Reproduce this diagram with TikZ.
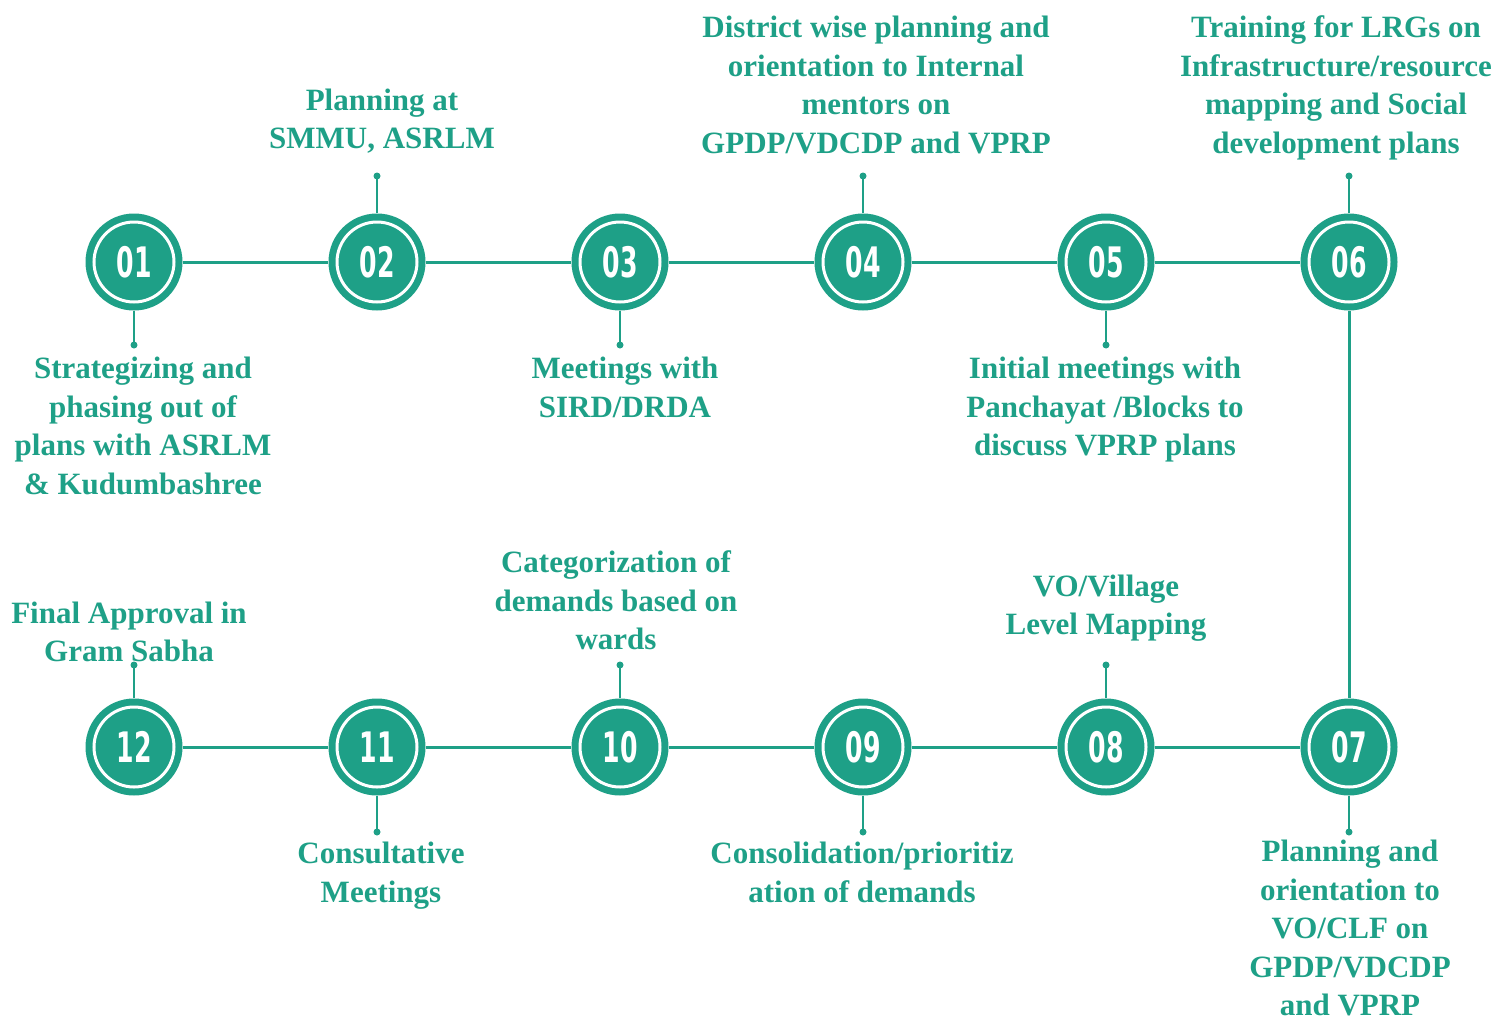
\documentclass[tikz,border=0pt]{standalone}
\usepackage{fontspec}
\setmainfont{Liberation Serif}
\newfontfamily\numfont{DejaVu Sans}
\definecolor{tl}{RGB}{30,160,135}
\begin{document}
\begin{tikzpicture}[x=1pt,y=-1pt,
  stepc/.style={circle, fill=tl, minimum size=97pt, inner sep=0pt, text=white,
    font=\numfont\bfseries\fontsize{42}{42}\selectfont},
  ring/.style={draw=white, line width=3pt},
  link/.style={draw=tl, line width=3pt},
  stub/.style={draw=tl, line width=2.5pt},
  lbl/.style={text=tl, font=\bfseries\fontsize{31}{38.5}\selectfont, align=center,
    inner sep=0pt, execute at begin node=\strut, execute at end node=\strut}]
\useasboundingbox (0,0) rectangle (1499,1020);

% step circles
\node[stepc] (c1)  at (134,262)  {\scalebox{0.6}[1]{01}};
\node[stepc] (c2)  at (377,262)  {\scalebox{0.6}[1]{02}};
\node[stepc] (c3)  at (620,262)  {\scalebox{0.6}[1]{03}};
\node[stepc] (c4)  at (863,262)  {\scalebox{0.6}[1]{04}};
\node[stepc] (c5)  at (1106,262) {\scalebox{0.6}[1]{05}};
\node[stepc] (c6)  at (1349,262) {\scalebox{0.6}[1]{06}};
\node[stepc] (c7)  at (1349,747) {\scalebox{0.6}[1]{07}};
\node[stepc] (c8)  at (1106,747) {\scalebox{0.6}[1]{08}};
\node[stepc] (c9)  at (863,747)  {\scalebox{0.6}[1]{09}};
\node[stepc] (c10) at (620,747)  {\scalebox{0.6}[1]{10}};
\node[stepc] (c11) at (377,747)  {\scalebox{0.6}[1]{11}};
\node[stepc] (c12) at (134,747)  {\scalebox{0.6}[1]{12}};
\foreach \i in {1,...,12} \draw[ring] (c\i.center) circle[radius=40];

% connectors
\draw[link] (c1) -- (c2);
\draw[link] (c2) -- (c3);
\draw[link] (c3) -- (c4);
\draw[link] (c4) -- (c5);
\draw[link] (c5) -- (c6);
\draw[link] (c6) -- (c7);
\draw[link] (c7) -- (c8);
\draw[link] (c8) -- (c9);
\draw[link] (c9) -- (c10);
\draw[link] (c10) -- (c11);
\draw[link] (c11) -- (c12);

% stubs
\coordinate (d1)  at (134,345);
\coordinate (d2)  at (377,176);
\coordinate (d3)  at (620,345);
\coordinate (d4)  at (863,176);
\coordinate (d5)  at (1106,345);
\coordinate (d6)  at (1349,176);
\coordinate (d7)  at (1349,832);
\coordinate (d8)  at (1106,665);
\coordinate (d9)  at (863,832);
\coordinate (d10) at (620,665);
\coordinate (d11) at (377,832);
\coordinate (d12) at (134,665);
\foreach \i in {1,...,12} {
  \draw[stub] (c\i) -- (d\i);
  \fill[tl] (d\i) circle[radius=3.5];
}

% labels
\node[lbl, anchor=north] (t1) at (143,357)
  {Strategizing and\\phasing out of\\plans with ASRLM\\\& Kudumbashree};
\node[lbl, anchor=south] (t2) at (382,160.5)
  {Planning at\\SMMU, ASRLM};
\node[lbl, anchor=north] (t3) at (625,357)
  {Meetings with\\SIRD/DRDA};
\node[lbl, anchor=south] (t4) at (876,165)
  {District wise planning and\\orientation to Internal\\mentors on\\GPDP/VDCDP and VPRP};
\node[lbl, anchor=north] (t5) at (1105,357)
  {Initial meetings with\\Panchayat /Blocks to\\discuss VPRP plans};
\node[lbl, anchor=south] (t6) at (1336,165)
  {Training for LRGs on\\Infrastructure/resource\\mapping and Social\\development plans};
\node[lbl, anchor=north, execute at end node={}] (t7) at (1350,840)
  {Planning and\\orientation to\\VO/CLF on\\GPDP/VDCDP\\and VPRP};
\node[lbl, anchor=south] (t8) at (1106,646.5)
  {VO/Village\\Level Mapping};
\node[lbl, anchor=north] (t9) at (862,842)
  {Consolidation/prioritiz\\ation of demands};
\node[lbl, anchor=south] (t10) at (616,661.5)
  {Categorization of\\demands based on\\wards};
\node[lbl, anchor=north] (t11) at (381,842)
  {Consultative\\Meetings};
\node[lbl, anchor=south] (t12) at (129,673.5)
  {Final Approval in\\Gram Sabha};
\end{tikzpicture}
\end{document}
